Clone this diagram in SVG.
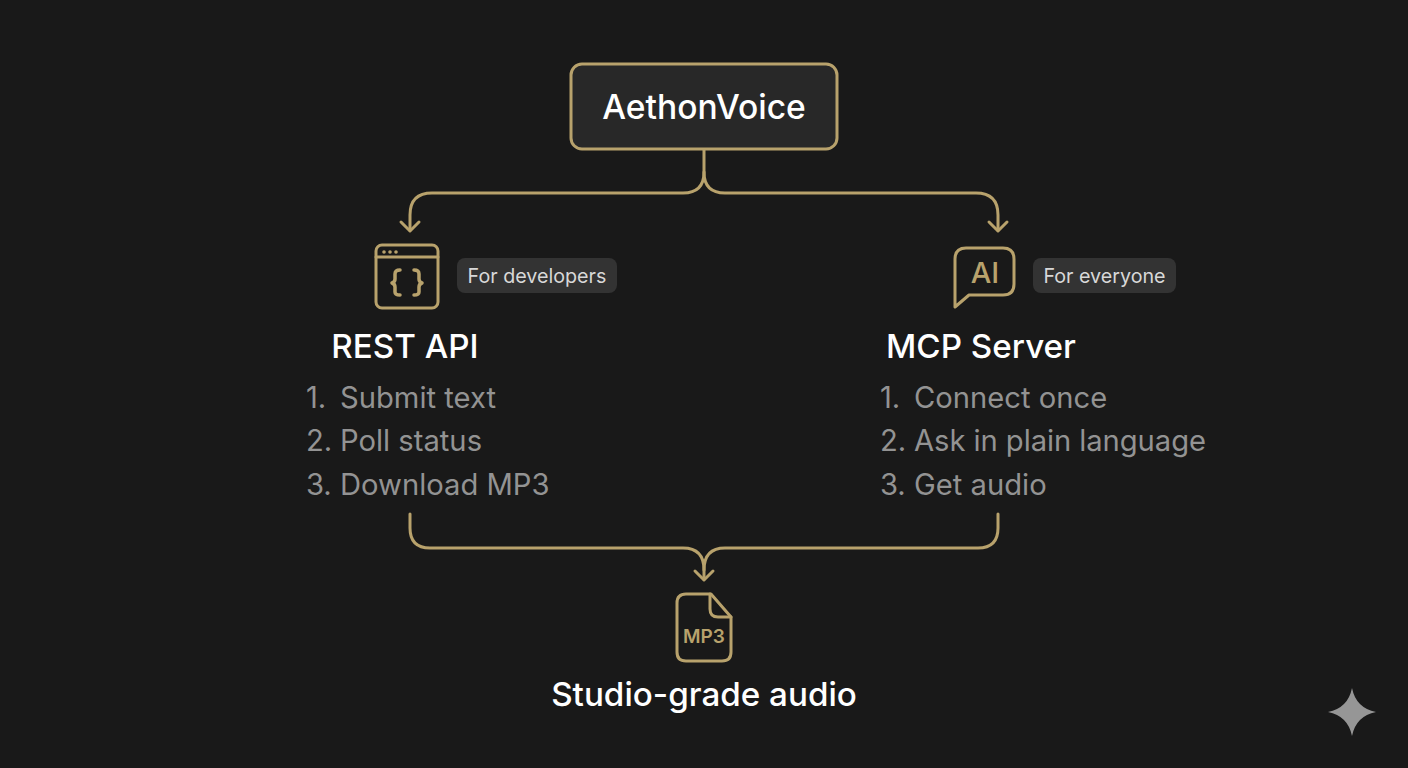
<svg xmlns="http://www.w3.org/2000/svg" width="1408" height="768" viewBox="0 0 1408 768">
<defs>
<style>
text{font-family:Inter,"Liberation Sans",sans-serif}
.l{fill:none;stroke:#b8a26c;stroke-width:3;stroke-linecap:round;stroke-linejoin:round}
.t{fill:#fff;font-weight:500;font-size:33.200px}
.s{fill:#939393;font-size:29.200px}
.b{fill:#d8d8d8;font-size:19.700px}
.p{fill:#333333}
</style>
</defs>
<rect width="1408" height="768" fill="#191919"/>
<g id="connectors" class="l">
<path d="M704 150V172Q704 193 683 193H432Q410 193 410 215V230"/>
<path d="M401 222L410 231L419 222"/>
<path d="M704 172Q704 193 725 193H976Q998 193 998 215V230"/>
<path d="M989 222L998 231L1007 222"/>
<path d="M410 514V528Q410 548 430 548H683Q704 548 704 570V579"/>
<path d="M998 514V528Q998 548 978 548H725Q704 548 704 570"/>
<path d="M695 571L704 580L713 571"/>
</g>
<g id="aethonvoice">
<rect x="571" y="64" width="266" height="85" rx="11" fill="#282828" stroke="#b8a26c" stroke-width="3"/>
<text x="704" y="118.500" text-anchor="middle" class="t" style="font-size:33.600px">AethonVoice</text>
</g>
<g id="rest-api">
<g class="l">
<rect x="376" y="245" width="62" height="63" rx="6"/>
<path d="M376 257H438"/>
</g>
<circle cx="384" cy="252" r="1.8" fill="#b8a26c"/><circle cx="390" cy="252" r="1.8" fill="#b8a26c"/><circle cx="396" cy="252" r="1.8" fill="#b8a26c"/>
<path class="l" style="stroke-width:3.500" d="M400 270Q395 270 395 274V279Q395 282 392 283Q395 284 395 287V292Q395 295 400 295M414 270Q419 270 419 274V279Q419 282 422 283Q419 284 419 287V292Q419 295 414 295"/>
<rect class="p" x="457" y="258" width="160" height="35" rx="8"/>
<text x="537" y="283" text-anchor="middle" class="b">For developers</text>
<text x="405" y="358" text-anchor="middle" class="t">REST API</text>
<text y="408" class="s"><tspan x="306">1. </tspan><tspan x="340">Submit text</tspan></text>
<text y="451" class="s"><tspan x="306">2. </tspan><tspan x="340">Poll status</tspan></text>
<text y="495" class="s"><tspan x="306">3. </tspan><tspan x="340">Download MP3</tspan></text>
</g>
<g id="mcp-server">
<path class="l" d="M966 248H1003Q1014 248 1014 259V284Q1014 295 1003 295H969L955 307V259Q955 248 966 248Z"/>
<text x="985" y="283" text-anchor="middle" font-size="29" font-weight="500" fill="#b8a26c">AI</text>
<rect class="p" x="1033" y="258" width="143" height="35" rx="8"/>
<text x="1104.500" y="283" text-anchor="middle" class="b">For everyone</text>
<text x="981" y="358" text-anchor="middle" class="t">MCP Server</text>
<text y="408" class="s"><tspan x="880">1. </tspan><tspan x="914">Connect once</tspan></text>
<text y="451" class="s"><tspan x="880">2. </tspan><tspan x="914" textLength="292">Ask in plain language</tspan></text>
<text y="495" class="s"><tspan x="880">3. </tspan><tspan x="914">Get audio</tspan></text>
</g>
<g id="studio-audio">
<path class="l" d="M686 594H711L731 617V652Q731 661 722 661H686Q677 661 677 652V603Q677 594 686 594Z"/>
<path class="l" d="M710 594V609Q710 617 718 617H731"/>
<text x="704" y="643" text-anchor="middle" font-size="19" font-weight="600" fill="#b8a26c">MP3</text>
<text x="704" y="706" text-anchor="middle" class="t">Studio-grade audio</text>
</g>
<path id="sparkle" d="M1352 688Q1356 708 1376 712Q1356 716 1352 736Q1348 716 1328 712Q1348 708 1352 688Z" fill="#969696"/>
</svg>
